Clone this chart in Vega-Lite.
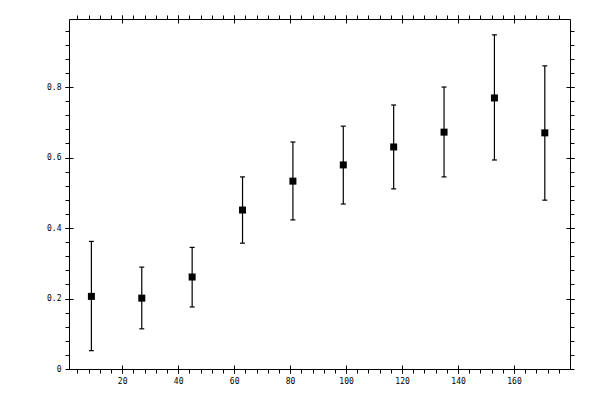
{
  "$schema": "https://vega.github.io/schema/vega-lite/v6.json",
  "width": 501,
  "height": 350,
  "autosize": "none",
  "padding": {"left": 69, "top": 19, "right": 30, "bottom": 31},
  "background": "white",
  "config": {
    "view": {"stroke": null},
    "axis": {
      "grid": false,
      "title": null,
      "labelFont": "DejaVu Sans Mono",
      "labelFontSize": 8,
      "labelColor": "black",
      "tickColor": "black",
      "domainColor": "black",
      "tickWidth": 1,
      "domainWidth": 1,
      "labelOverlap": false,
      "labelFlush": false
    }
  },
  "data": {
    "values": [
      {"x": 9, "val": 0.206, "lo": 0.052, "hi": 0.362},
      {"x": 27, "val": 0.201, "lo": 0.114, "hi": 0.289},
      {"x": 45, "val": 0.261, "lo": 0.176, "hi": 0.345},
      {"x": 63, "val": 0.451, "lo": 0.357, "hi": 0.545},
      {"x": 81, "val": 0.533, "lo": 0.423, "hi": 0.644},
      {"x": 99, "val": 0.579, "lo": 0.468, "hi": 0.689},
      {"x": 117, "val": 0.630, "lo": 0.511, "hi": 0.749},
      {"x": 135, "val": 0.672, "lo": 0.545, "hi": 0.800},
      {"x": 153, "val": 0.769, "lo": 0.593, "hi": 0.948},
      {"x": 171, "val": 0.670, "lo": 0.479, "hi": 0.860}
    ]
  },
  "resolve": {"axis": {"x": "independent", "y": "independent"}},
  "layer": [
    {
      "mark": {"type": "rule", "color": "black", "strokeWidth": 1.2},
      "encoding": {
        "x": {
          "field": "x", "type": "quantitative",
          "scale": {"domain": [1, 180], "nice": false, "zero": false},
          "axis": {"orient": "bottom", "values": [20, 40, 60, 80, 100, 120, 140, 160], "format": "d", "domain": false, "tickSize": 8, "offset": -4, "labelPadding": 4}
        },
        "y": {
          "field": "lo", "type": "quantitative",
          "scale": {"domain": [0, 0.993], "nice": false, "zero": false},
          "axis": {"orient": "left", "values": [0, 0.2, 0.4, 0.6, 0.8], "format": "~g", "domain": false, "tickSize": 8, "offset": -4, "labelPadding": 4}
        },
        "y2": {"field": "hi"}
      }
    },
    {
      "mark": {"type": "tick", "orient": "horizontal", "color": "black", "size": 5, "thickness": 1.2, "opacity": 1},
      "encoding": {
        "x": {
          "field": "x", "type": "quantitative",
          "scale": {"domain": [1, 180], "nice": false, "zero": false},
          "axis": {"orient": "bottom", "values": [4, 8, 12, 16, 20, 24, 28, 32, 36, 40, 44, 48, 52, 56, 60, 64, 68, 72, 76, 80, 84, 88, 92, 96, 100, 104, 108, 112, 116, 120, 124, 128, 132, 136, 140, 144, 148, 152, 156, 160, 164, 168, 172, 176], "labels": false, "domain": true, "tickSize": 4}
        },
        "y": {
          "field": "lo", "type": "quantitative",
          "scale": {"domain": [0, 0.993], "nice": false, "zero": false},
          "axis": {"orient": "left", "values": [0.04, 0.08, 0.12, 0.16, 0.2, 0.24, 0.28, 0.32, 0.36, 0.4, 0.44, 0.48, 0.52, 0.56, 0.6, 0.64, 0.68, 0.72, 0.76, 0.8, 0.84, 0.88, 0.92, 0.96], "labels": false, "domain": true, "tickSize": 4}
        }
      }
    },
    {
      "mark": {"type": "tick", "orient": "horizontal", "color": "black", "size": 5, "thickness": 1.2, "opacity": 1},
      "encoding": {
        "x": {
          "field": "x", "type": "quantitative",
          "scale": {"domain": [1, 180], "nice": false, "zero": false},
          "axis": {"orient": "top", "values": [20, 40, 60, 80, 100, 120, 140, 160], "labels": false, "domain": false, "tickSize": 8, "offset": -4}
        },
        "y": {
          "field": "hi", "type": "quantitative",
          "scale": {"domain": [0, 0.993], "nice": false, "zero": false},
          "axis": {"orient": "right", "values": [0, 0.2, 0.4, 0.6, 0.8], "labels": false, "domain": false, "tickSize": 8, "offset": -4}
        }
      }
    },
    {
      "mark": {"type": "square", "color": "black", "size": 49, "opacity": 1, "filled": true},
      "encoding": {
        "x": {
          "field": "x", "type": "quantitative",
          "scale": {"domain": [1, 180], "nice": false, "zero": false},
          "axis": {"orient": "top", "values": [4, 8, 12, 16, 20, 24, 28, 32, 36, 40, 44, 48, 52, 56, 60, 64, 68, 72, 76, 80, 84, 88, 92, 96, 100, 104, 108, 112, 116, 120, 124, 128, 132, 136, 140, 144, 148, 152, 156, 160, 164, 168, 172, 176], "labels": false, "domain": true, "tickSize": 4}
        },
        "y": {
          "field": "val", "type": "quantitative",
          "scale": {"domain": [0, 0.993], "nice": false, "zero": false},
          "axis": {"orient": "right", "values": [0.04, 0.08, 0.12, 0.16, 0.2, 0.24, 0.28, 0.32, 0.36, 0.4, 0.44, 0.48, 0.52, 0.56, 0.6, 0.64, 0.68, 0.72, 0.76, 0.8, 0.84, 0.88, 0.92, 0.96], "labels": false, "domain": true, "tickSize": 4}
        }
      }
    }
  ]
}
